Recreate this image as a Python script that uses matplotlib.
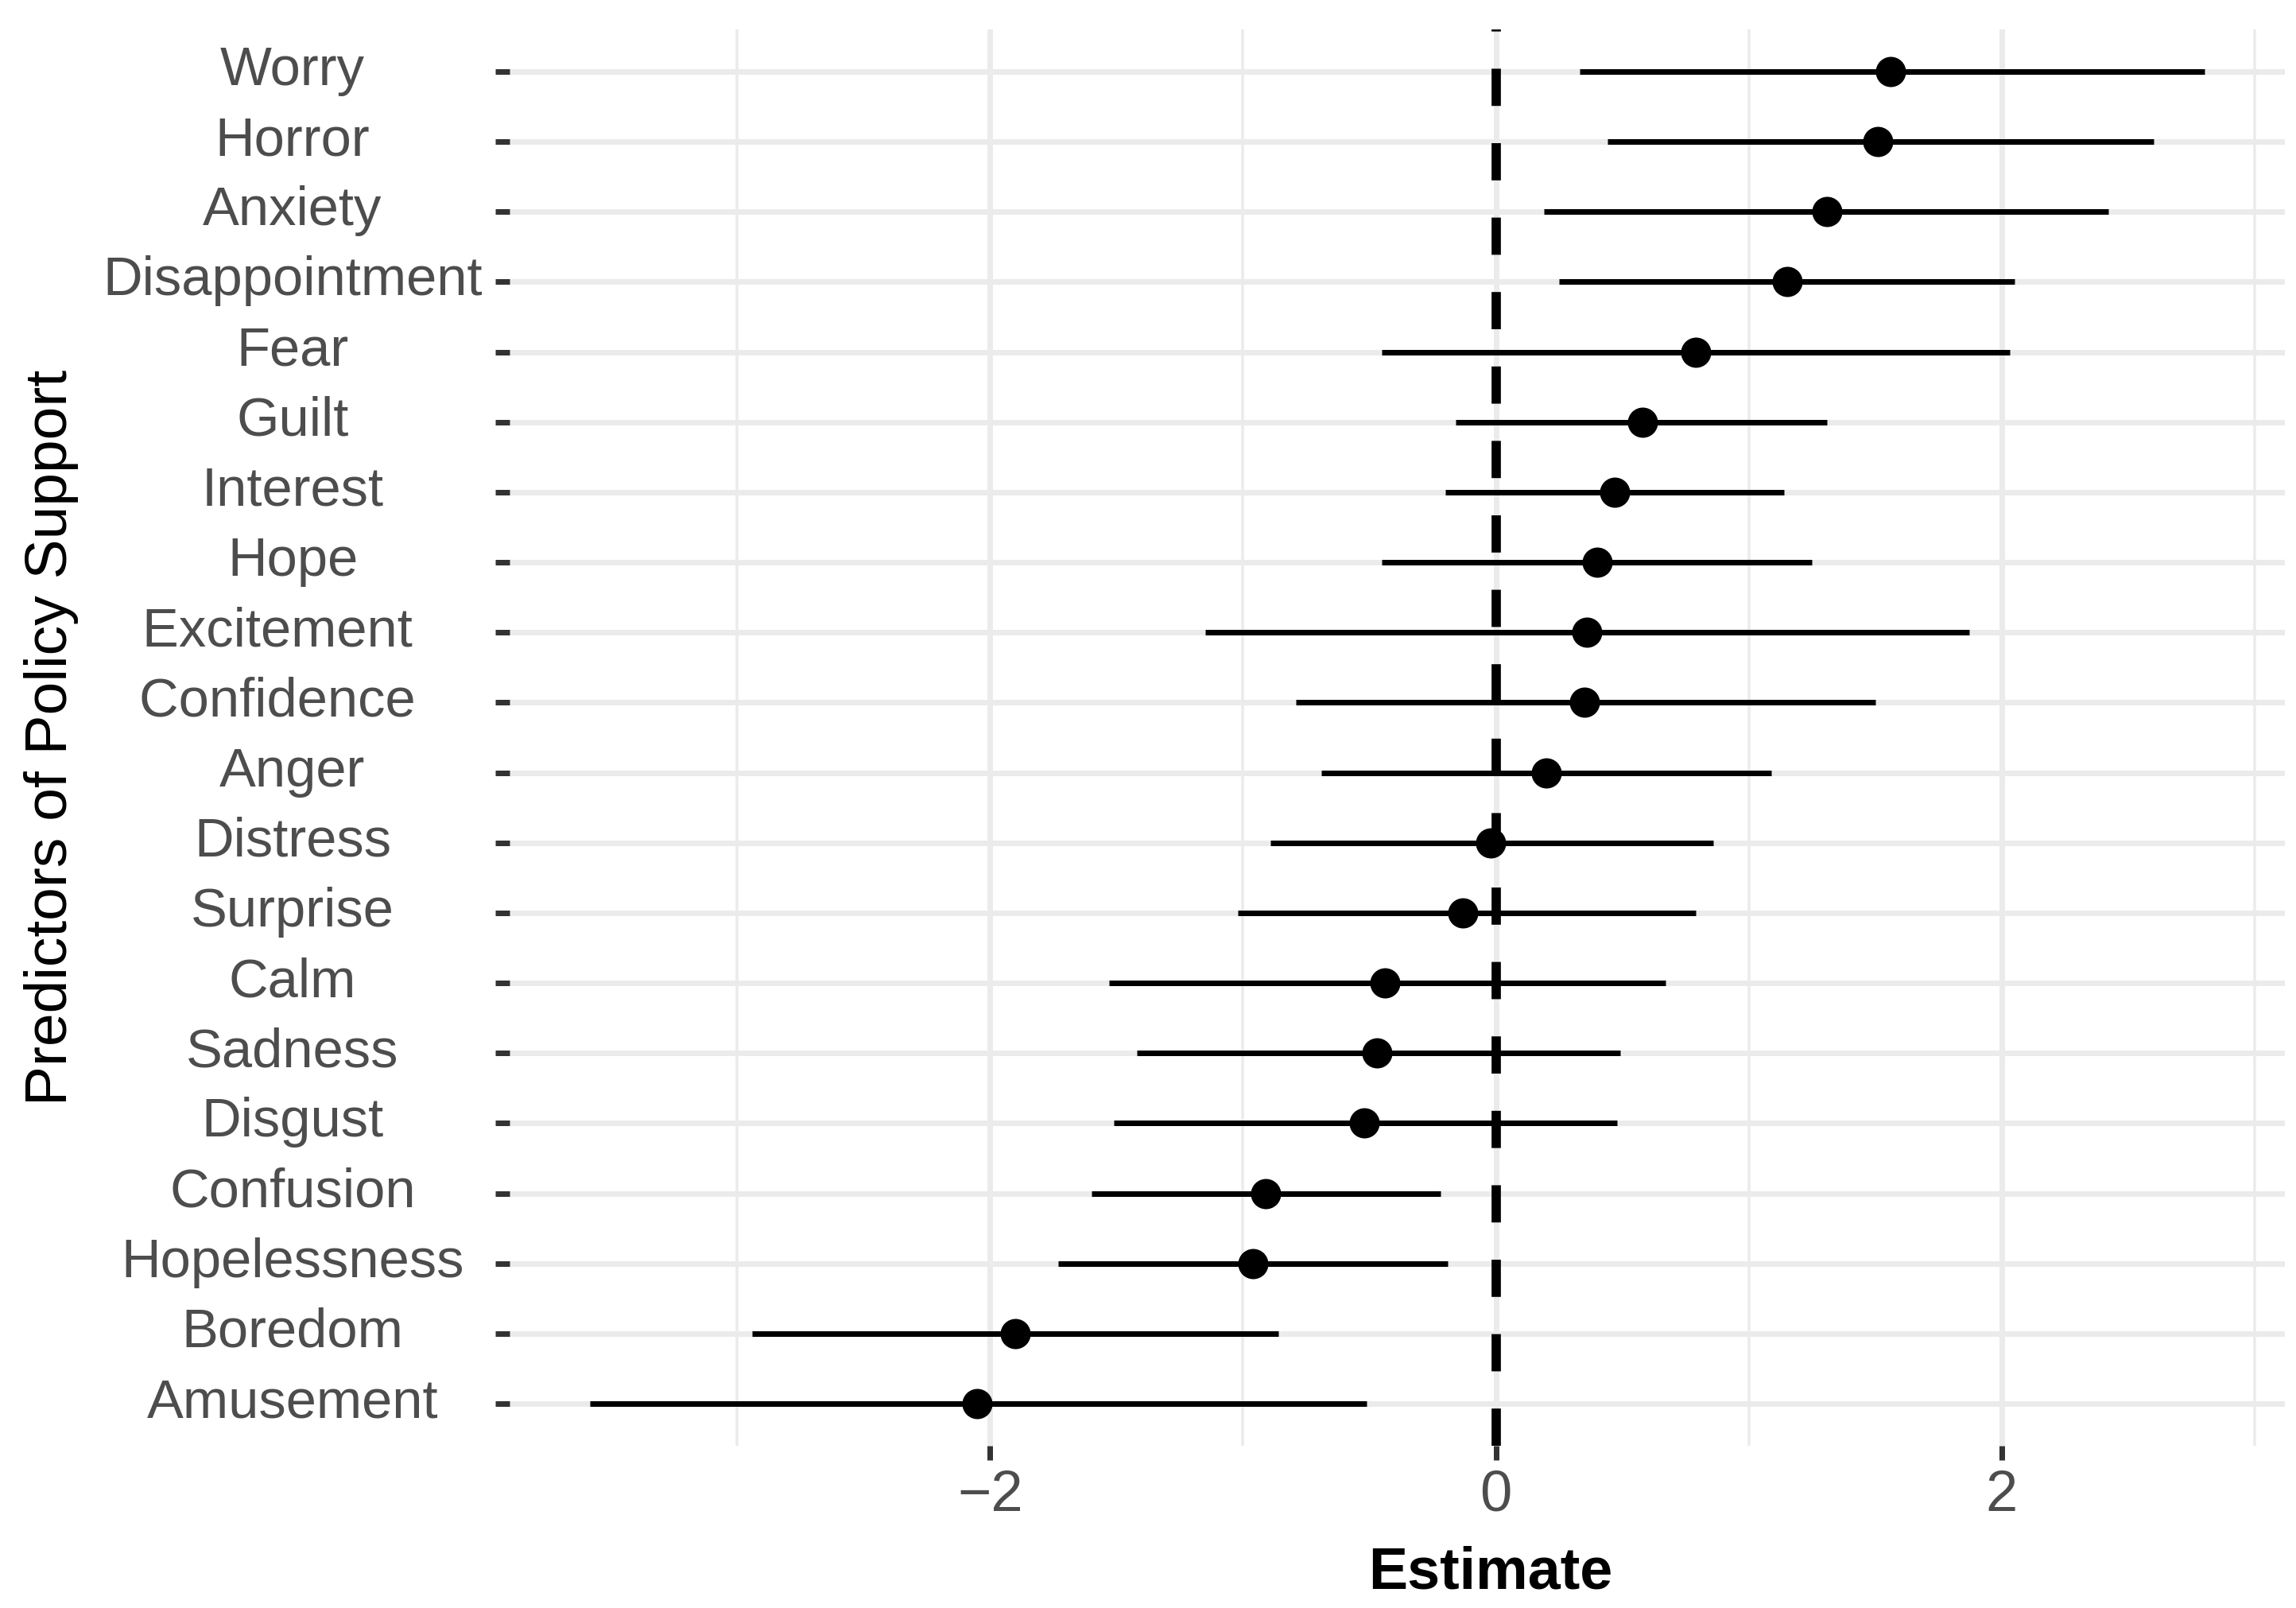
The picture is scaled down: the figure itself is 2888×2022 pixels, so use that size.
import matplotlib
matplotlib.use("Agg")
import matplotlib.pyplot as plt
from matplotlib.transforms import ScaledTranslation
import numpy as np

# ---- data (top row first, as in the chart) ----
predictors = ["Worry", "Horror", "Anxiety", "Disappointment", "Fear", "Guilt",
              "Interest", "Hope", "Excitement  ", "Confidence  ", "Anger", "Distress",
              "Surprise", "Calm", "Sadness", "Disgust", "Confusion", "Hopelessness",
              "Boredom", "Amusement"]
estimate = [1.56, 1.51, 1.31, 1.15, 0.79, 0.58, 0.47, 0.40, 0.36, 0.35, 0.20, -0.02,
            -0.13, -0.44, -0.47, -0.52, -0.91, -0.96, -1.90, -2.05]
ci_low = [0.33, 0.44, 0.19, 0.25, -0.45, -0.16, -0.20, -0.45, -1.15, -0.79, -0.69, -0.89,
          -1.02, -1.53, -1.42, -1.51, -1.60, -1.73, -2.94, -3.58]
ci_high = [2.80, 2.60, 2.42, 2.05, 2.03, 1.31, 1.14, 1.25, 1.87, 1.50, 1.09, 0.86,
           0.79, 0.67, 0.49, 0.48, -0.22, -0.19, -0.86, -0.51]
x_ticks = [-2, 0, 2]
x_minor = [-3, -1, 1, 3]

W, H, DPI = 2888, 2022, 300
plt.rcParams['font.family'] = ['Liberation Sans', 'DejaVu Sans']

fig = plt.figure(figsize=(W / DPI, H / DPI), dpi=DPI)
px = 72.0 / DPI  # points per pixel

# panel in pixel coords
p_left, p_right, p_top, p_bot = 641, 2874, 37, 1818
ax = fig.add_axes([p_left / W, 1 - p_bot / H, (p_right - p_left) / W, (p_bot - p_top) / H])

n = len(predictors)
ypos = np.arange(n, 0, -1)  # Worry at top

lo, hi = min(ci_low), max(ci_high)
pad = 0.05 * (hi - lo)
ax.set_xlim(lo - pad, hi + pad)
ax.set_ylim(0.4, n + 0.6)

# grid
grid_c = "#EBEBEB"
for yv in ypos:
    ax.axhline(yv, color=grid_c, lw=7 * px, zorder=0)
for xv in x_ticks:
    ax.axvline(xv, color=grid_c, lw=7 * px, zorder=0)
for xv in x_minor:
    ax.axvline(xv, color=grid_c, lw=3.5 * px, zorder=0)

# error bars and points
ax.hlines(ypos, ci_low, ci_high, color="black", lw=7 * px, zorder=2)
ax.plot(estimate, ypos, "o", color="black", ms=38 * px, mew=0, zorder=3)

# dashed zero line (drawn bottom to top)
ax.plot([0, 0], [0, 1], transform=ax.get_xaxis_transform(), color="black",
        lw=11.7 * px, linestyle=(0, (4, 4)), dash_capstyle="butt", zorder=4,
        solid_capstyle="butt")

for s in ax.spines.values():
    s.set_visible(False)
ax.set_facecolor("white")

ax.set_yticks(ypos)
ax.set_yticklabels(predictors)
ax.set_xticks(x_ticks)
ax.set_xticklabels(["\u22122", "0", "2"])

ax.tick_params(axis="y", length=18 * px, width=7 * px, color="#333333",
               pad=(641 - 18 - 368) * px, labelsize=16.5, labelcolor="#4D4D4D")
ax.tick_params(axis="x", length=18 * px, width=7 * px, color="#333333",
               pad=12 * px, labelsize=17.4, labelcolor="#4D4D4D")

off = ScaledTranslation(0, -17 / DPI, fig.dpi_scale_trans)
for t in ax.yaxis.get_major_ticks(len(ypos)):
    t.label1.set_horizontalalignment("center")
    t.label1.set_verticalalignment("baseline")
    t.label1.set_transform(t.label1.get_transform() + off)

fig.text(1875 / W, (H - 1997) / H, "Estimate", ha="center", va="baseline",
         fontsize=17.7, fontweight="bold", color="black")
fig.text(99 / W, 1 - 927 / H, "Predictors of Policy Support", rotation=90,
         ha="right", va="center", fontsize=18, color="black")

fig.savefig("out.png", dpi=DPI, facecolor="white")
